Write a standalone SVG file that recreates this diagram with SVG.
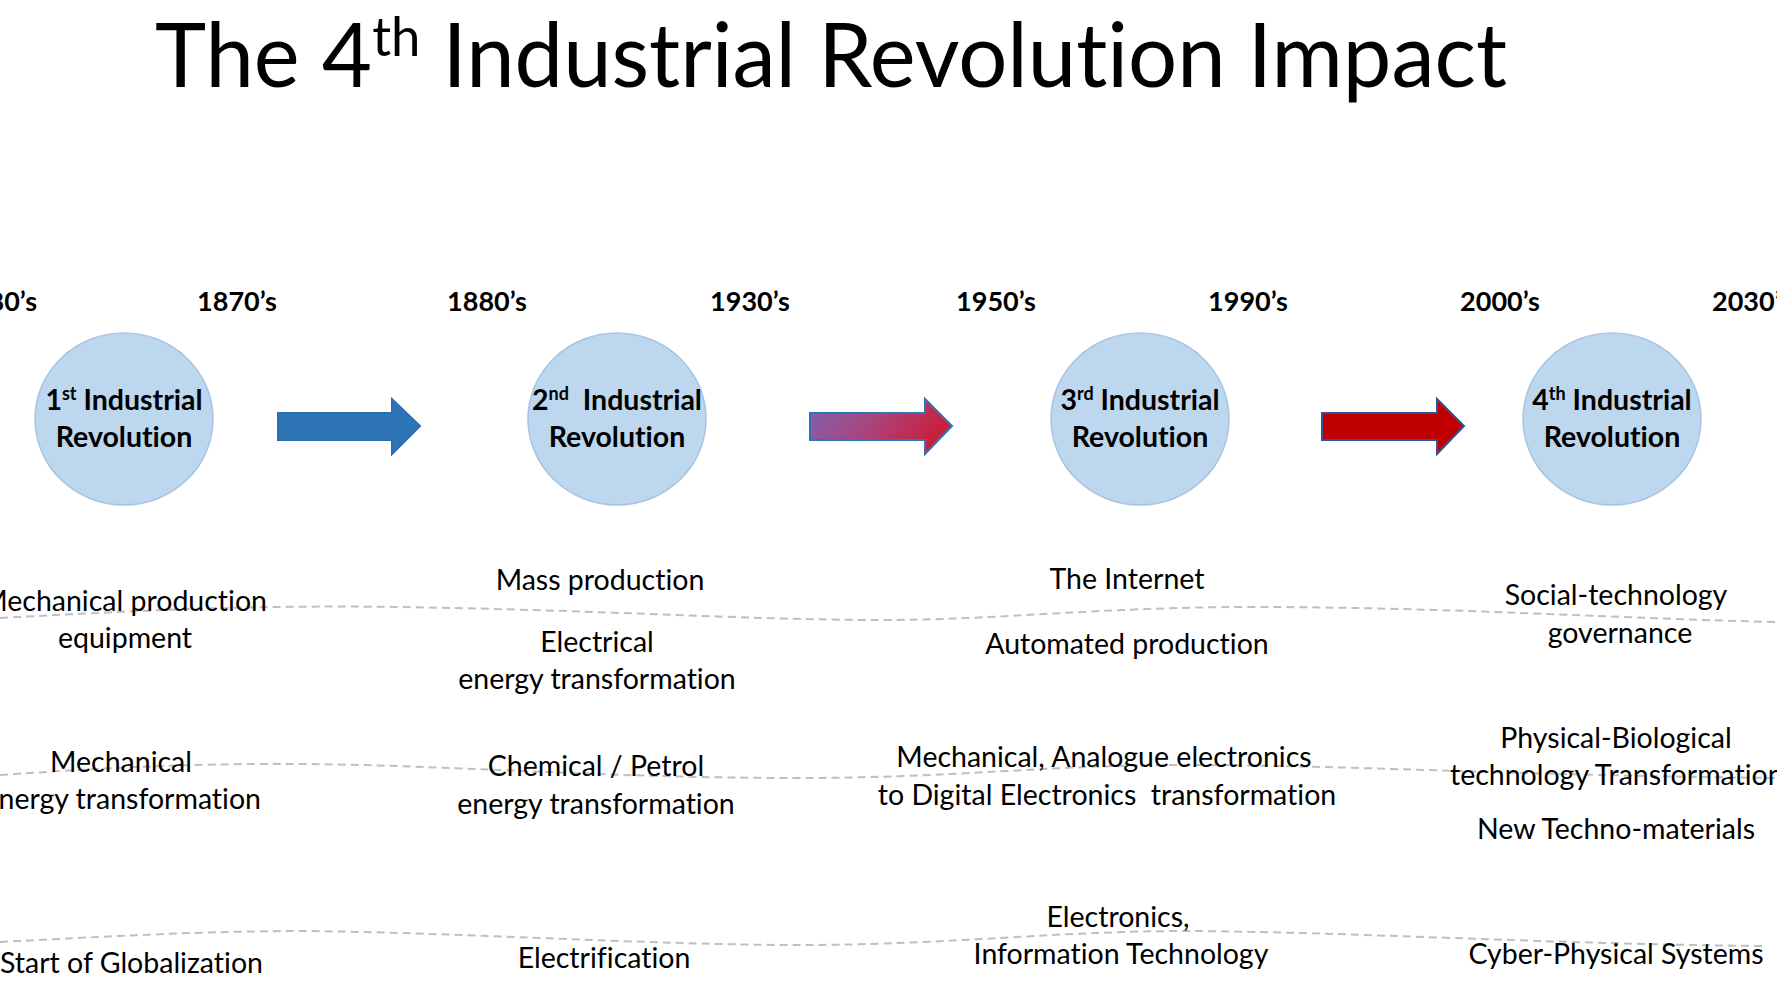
<svg xmlns="http://www.w3.org/2000/svg" width="1777" height="1000" viewBox="0 0 1777 1000">
<style>
text{font-variant-ligatures:none;font-feature-settings:"liga" 0;}
.title{font-family:Lato,"Liberation Sans",sans-serif;font-size:89px;fill:#000;}
.date{font-family:Lato,"Liberation Sans",sans-serif;font-size:27px;font-weight:bold;fill:#000;text-anchor:middle;}
.ctext{font-family:Lato,"Liberation Sans",sans-serif;font-size:28.5px;font-weight:bold;fill:#000;text-anchor:middle;}
.body{font-family:Lato,"Liberation Sans",sans-serif;font-size:28.5px;fill:#000;text-anchor:middle;}
.circ{fill:#BDD7EE;stroke:#A8C3E3;stroke-width:1.5;}
.dash{fill:none;stroke:#BFBFBF;stroke-width:2;stroke-dasharray:8 5;}
</style>
<defs>
<linearGradient id="g2" x1="0" y1="0" x2="1" y2="0.3">
<stop offset="0" stop-color="#7D63B4"/>
<stop offset="0.5" stop-color="#A8467E"/>
<stop offset="1" stop-color="#C8203A"/>
</linearGradient>
</defs>
<rect width="1777" height="1000" fill="#fff"/>
<text class="title" x="155" y="87" textLength="1352" lengthAdjust="spacingAndGlyphs">The 4<tspan font-size="54" dy="-31">th</tspan><tspan dy="31"> Industrial Revolution Impact</tspan></text>

<g id="connectors">
<path class="dash" d="M0,618 C150,610 250,605 400,607 C600,610 750,620 880,620 C1000,620 1100,607 1250,607 C1450,607 1600,618 1777,622"/>
<path class="dash" d="M0,775 C100,768 200,763 300,764 C450,765 600,778 800,778 C950,778 1050,765 1180,765 C1350,765 1500,775 1777,778"/>
<path class="dash" d="M0,942 C100,937 200,931 300,931 C450,932 650,945 800,945 C950,945 1050,931 1190,931 C1350,932 1550,944 1762,946"/>
<path id="arrow1" d="M278,413 L392,413 L392,399 L420,426 L392,454 L392,440 L278,440 Z" fill="#2E75B6" stroke="#2E6DB0" stroke-width="2"/>
<path id="arrow2" d="M810,413 L925,413 L925,399 L952,426 L925,454 L925,440 L810,440 Z" fill="url(#g2)" stroke="#2E75B6" stroke-width="2"/>
<path id="arrow3" d="M1322,413 L1437,413 L1437,399 L1464,426 L1437,454 L1437,440 L1322,440 Z" fill="#C00000" stroke="#2F5597" stroke-width="2"/>
</g>

<g id="dates">
<text class="date" x="37" y="311" style="text-anchor:end">1780’s</text>
<text class="date" x="237" y="311">1870’s</text>
<text class="date" x="487" y="311">1880’s</text>
<text class="date" x="750" y="311">1930’s</text>
<text class="date" x="996" y="311">1950’s</text>
<text class="date" x="1248" y="311">1990’s</text>
<text class="date" x="1500" y="311">2000’s</text>
<text class="date" x="1712" y="311" style="text-anchor:start">2030’s</text>
</g>

<g id="node1">
<ellipse class="circ" cx="124" cy="419" rx="89" ry="86"/>
<text class="ctext" x="124" y="410">1<tspan font-size="18" dy="-10">st</tspan><tspan dy="10"> Industrial</tspan></text>
<text class="ctext" x="124" y="447">Revolution</text>
</g>
<g id="node2">
<ellipse class="circ" cx="617" cy="419" rx="89" ry="86"/>
<text class="ctext" x="617" y="410" xml:space="preserve">2<tspan font-size="18" dy="-10">nd</tspan><tspan dy="10">  Industrial</tspan></text>
<text class="ctext" x="617" y="447">Revolution</text>
</g>
<g id="node3">
<ellipse class="circ" cx="1140" cy="419" rx="89" ry="86"/>
<text class="ctext" x="1140" y="410">3<tspan font-size="18" dy="-10">rd</tspan><tspan dy="10"> Industrial</tspan></text>
<text class="ctext" x="1140" y="447">Revolution</text>
</g>
<g id="node4">
<ellipse class="circ" cx="1612" cy="419" rx="89" ry="86"/>
<text class="ctext" x="1612" y="410">4<tspan font-size="18" dy="-10">th</tspan><tspan dy="10"> Industrial</tspan></text>
<text class="ctext" x="1612" y="447">Revolution</text>
</g>

<g id="labels">
<text class="body" x="267" y="611" style="text-anchor:end">Mechanical production</text>
<text class="body" x="125" y="648">equipment</text>
<text class="body" x="600" y="590">Mass production</text>
<text class="body" x="597" y="652">Electrical</text>
<text class="body" x="597" y="689">energy transformation</text>
<text class="body" x="1127" y="589">The Internet</text>
<text class="body" x="1127" y="654">Automated production</text>
<text class="body" x="1616" y="605">Social-technology</text>
<text class="body" x="1620" y="643">governance</text>

<text class="body" x="121" y="772">Mechanical</text>
<text class="body" x="261" y="809" style="text-anchor:end">energy transformation</text>
<text class="body" x="596" y="776">Chemical / Petrol</text>
<text class="body" x="596" y="814">energy transformation</text>
<text class="body" x="1104" y="767">Mechanical, Analogue electronics</text>
<text class="body" x="1107" y="805" xml:space="preserve">to Digital Electronics  transformation</text>
<text class="body" x="1616" y="748">Physical-Biological</text>
<text class="body" x="1450" y="785" style="text-anchor:start">technology Transformation</text>
<text class="body" x="1616" y="839">New Techno-materials</text>

<text class="body" x="0" y="973" style="text-anchor:start">Start of Globalization</text>
<text class="body" x="604" y="968">Electrification</text>
<text class="body" x="1118" y="927">Electronics,</text>
<text class="body" x="1121" y="964">Information Technology</text>
<text class="body" x="1616" y="964">Cyber-Physical Systems</text>
</g>
</svg>
